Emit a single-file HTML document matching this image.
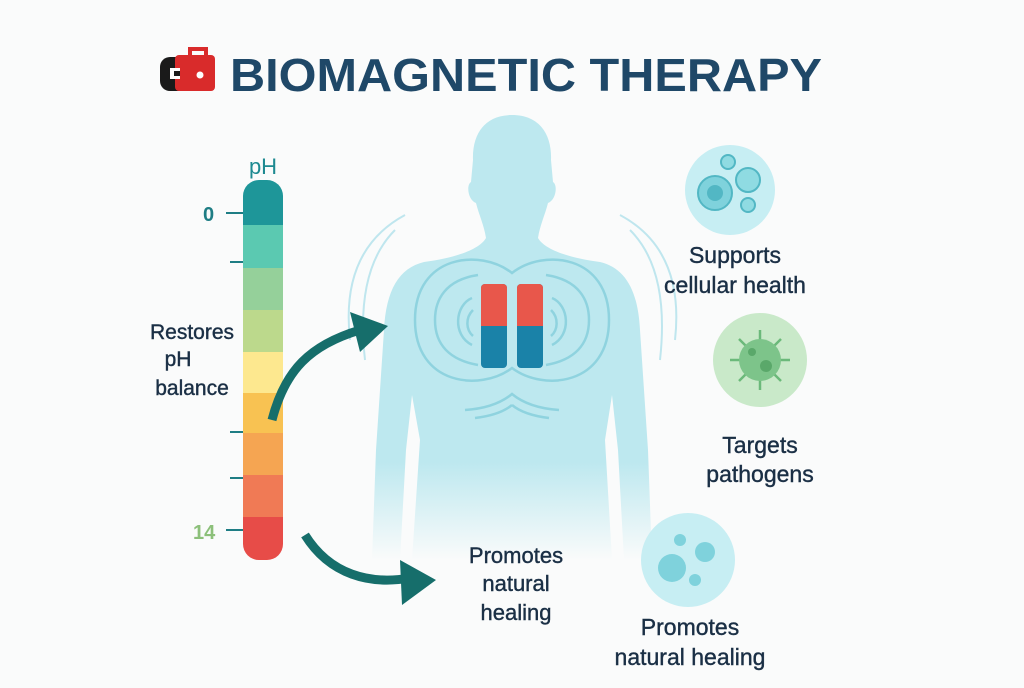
<!DOCTYPE html>
<html><head><meta charset="utf-8"><style>
body{margin:0;width:1024px;height:683px;background:#fafbfb;overflow:hidden;font-family:"Liberation Sans",sans-serif}
</style></head><body>
<svg width="1024" height="683" viewBox="0 0 1024 683" xmlns="http://www.w3.org/2000/svg">
<defs>
<linearGradient id="fade" x1="0" y1="0" x2="0" y2="1">
<stop offset="0.78" stop-color="#bde8ef"/><stop offset="1" stop-color="#bde8ef" stop-opacity="0"/>
</linearGradient>
</defs>
<!-- logo -->
<rect x="160" y="57" width="30" height="34" rx="10" fill="#1a1a1a"/>
<rect x="175" y="55" width="40" height="36" rx="4" fill="#d92b2b"/>
<path d="M190 57 v-8 h16 v8" fill="none" stroke="#d92b2b" stroke-width="4"/>
<rect x="170" y="68" width="10" height="11" fill="#fff"/><rect x="174" y="71" width="6" height="5" fill="#1a1a1a"/>
<circle cx="200" cy="75" r="3.5" fill="#fff"/>
<text x="230" y="91" font-size="46" font-weight="bold" fill="#1f4868" textLength="592" lengthAdjust="spacingAndGlyphs">BIOMAGNETIC THERAPY</text>

<!-- waves outside body -->
<g fill="none" stroke="#bfe6ee" stroke-width="2">
<path d="M405 215 Q340 250 350 340"/><path d="M395 230 Q355 270 365 360"/>
<path d="M620 215 Q685 250 675 340"/><path d="M630 230 Q670 270 660 360"/>
</g>
<!-- body -->
<path fill="url(#fade)" d="M512 115 C540 115 552 135 551 160 L553 182 C558 185 556 200 548 203 C545 215 540 225 538 238 C545 250 570 258 600 262 C625 268 638 290 640 330 L648 450 L652 560 L624 560 L618 450 L612 395 L605 440 L612 560 L412 560 L420 440 L412 395 L406 450 L400 560 L372 560 L376 450 L384 330 C386 290 399 268 424 262 C454 258 479 250 486 238 C484 225 479 215 476 203 C468 200 466 185 471 182 L473 160 C472 135 484 115 512 115 Z"/>
<g fill="none" stroke="#8fd3df" stroke-width="2.5">
<path d="M512 273 C480 248 415 255 415 320 C415 385 480 392 512 368 C544 392 609 385 609 320 C609 255 544 248 512 273 Z"/>
<path d="M478 275 C445 280 435 300 435 320 C435 345 450 360 478 365"/>
<path d="M546 275 C579 280 589 300 589 320 C589 345 574 360 546 365"/>
<path d="M472 298 C455 305 452 335 472 345"/><path d="M552 298 C569 305 572 335 552 345"/>
<path d="M473 310 C465 318 466 330 473 336"/><path d="M551 310 C559 318 558 330 551 336"/>
<path d="M465 410 Q495 408 512 394 Q529 408 559 410"/><path d="M475 418 Q500 415 512 405"/><path d="M549 418 Q524 415 512 405"/>
</g>
<rect x="481" y="284" width="26" height="84" rx="4" fill="#1a82a8"/>
<path d="M485 284 h18 a4 4 0 0 1 4 4 v38 h-26 v-38 a4 4 0 0 1 4 -4z" fill="#e8574b"/>
<rect x="517" y="284" width="26" height="84" rx="4" fill="#1a82a8"/>
<path d="M521 284 h18 a4 4 0 0 1 4 4 v38 h-26 v-38 a4 4 0 0 1 4 -4z" fill="#e8574b"/>

<!-- pH bar -->
<text x="263" y="174" font-size="22" fill="#1e8a91" text-anchor="middle">pH</text>
<clipPath id="bar"><rect x="243" y="180" width="40" height="380" rx="16"/></clipPath>
<g clip-path="url(#bar)">
<rect x="243" y="180" width="40" height="46" fill="#1e9699"/>
<rect x="243" y="225" width="40" height="44" fill="#5bc9b1"/>
<rect x="243" y="268" width="40" height="43" fill="#95d09a"/>
<rect x="243" y="310" width="40" height="43" fill="#bcd98c"/>
<rect x="243" y="352" width="40" height="42" fill="#fde88f"/>
<rect x="243" y="393" width="40" height="41" fill="#f8c252"/>
<rect x="243" y="433" width="40" height="43" fill="#f5a552"/>
<rect x="243" y="475" width="40" height="43" fill="#f07a55"/>
<rect x="243" y="517" width="40" height="43" fill="#e74c48"/>
</g>
<g stroke="#1e7d84" stroke-width="2">
<line x1="226" y1="213" x2="243" y2="213"/><line x1="230" y1="262" x2="243" y2="262"/>
<line x1="230" y1="432" x2="243" y2="432"/><line x1="230" y1="478" x2="243" y2="478"/>
<line x1="226" y1="530" x2="243" y2="530"/>
</g>
<text x="203" y="221" font-size="20" font-weight="bold" fill="#1e7d84">0</text>
<text x="193" y="539" font-size="20" font-weight="bold" fill="#8cc07a">14</text>
<g font-size="21" fill="#1a2f45" text-anchor="middle" stroke="#1a2f45" stroke-width="0.4">
<text x="192" y="339">Restores</text><text x="178" y="366">pH</text><text x="192" y="395">balance</text>
</g>
<!-- arrows -->
<path d="M272 420 C285 370 310 345 360 330" fill="none" stroke="#166e6b" stroke-width="9"/>
<path d="M350 312 L388 326 L360 352 Z" fill="#166e6b"/>
<path d="M305 535 C330 575 370 585 410 578" fill="none" stroke="#166e6b" stroke-width="9"/>
<path d="M400 560 L436 580 L402 605 Z" fill="#166e6b"/>
<g font-size="22" fill="#1a2f45" text-anchor="middle" stroke="#1a2f45" stroke-width="0.4">
<text x="516" y="563">Promotes</text><text x="516" y="591">natural</text><text x="516" y="620">healing</text>
</g>
<!-- right circles -->
<circle cx="730" cy="190" r="45" fill="#c7eef3"/>
<circle cx="715" cy="193" r="17" fill="#7fd2dc" stroke="#52b7c4" stroke-width="2"/>
<circle cx="715" cy="193" r="8" fill="#52b7c4"/>
<circle cx="748" cy="180" r="12" fill="#8fdbe2" stroke="#52b7c4" stroke-width="2"/>
<circle cx="728" cy="162" r="7" fill="#8fdbe2" stroke="#52b7c4" stroke-width="2"/>
<circle cx="748" cy="205" r="7" fill="#8fdbe2" stroke="#52b7c4" stroke-width="2"/>
<g font-size="23" fill="#1a2f45" text-anchor="middle" stroke="#1a2f45" stroke-width="0.4">
<text x="735" y="263">Supports</text><text x="735" y="293">cellular health</text>
</g>
<circle cx="760" cy="360" r="47" fill="#c9e9c9"/>
<g stroke="#6bb97a" stroke-width="2.5">
<line x1="760" y1="330" x2="760" y2="390"/><line x1="730" y1="360" x2="790" y2="360"/>
<line x1="739" y1="339" x2="781" y2="381"/><line x1="781" y1="339" x2="739" y2="381"/>
</g>
<circle cx="760" cy="360" r="21" fill="#7dc48a"/>
<circle cx="766" cy="366" r="6" fill="#5aa86a"/><circle cx="752" cy="352" r="4" fill="#5aa86a"/>
<g font-size="23" fill="#1a2f45" text-anchor="middle" stroke="#1a2f45" stroke-width="0.4">
<text x="760" y="453">Targets</text><text x="760" y="482">pathogens</text>
</g>
<circle cx="688" cy="560" r="47" fill="#c7eef3"/>
<circle cx="672" cy="568" r="14" fill="#7fd2dc"/><circle cx="705" cy="552" r="10" fill="#7fd2dc"/>
<circle cx="680" cy="540" r="6" fill="#7fd2dc"/><circle cx="695" cy="580" r="6" fill="#7fd2dc"/>
<g font-size="23" fill="#1a2f45" text-anchor="middle" stroke="#1a2f45" stroke-width="0.4">
<text x="690" y="635">Promotes</text><text x="690" y="665">natural healing</text>
</g>
</svg>
</body></html>
